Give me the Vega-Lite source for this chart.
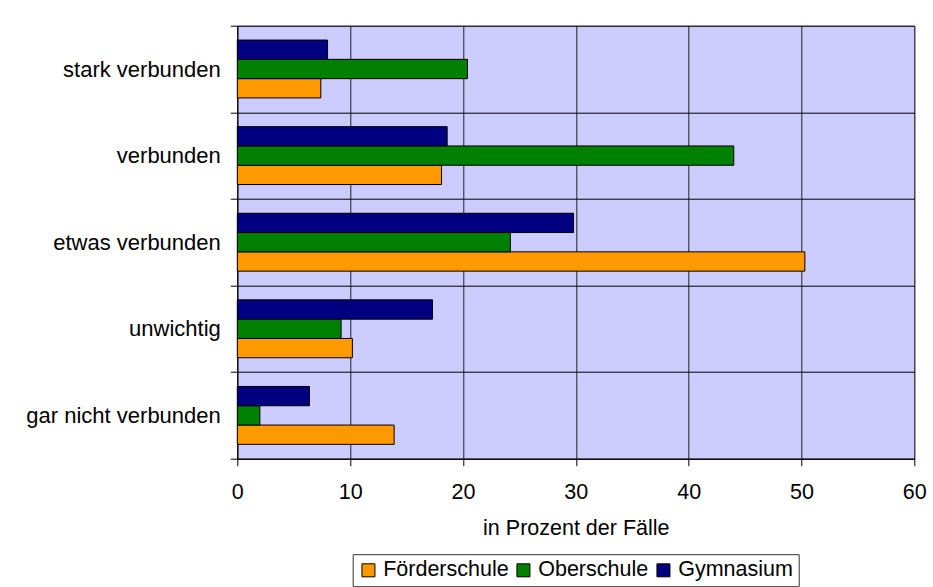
{
  "$schema": "https://vega.github.io/schema/vega-lite/v6.json",
  "autosize": {"type": "none"},
  "width": 677,
  "height": 433,
  "padding": {"left": 237.3, "top": 25.7, "right": 18.7, "bottom": 128.3},
  "background": "white",
  "data": {
    "values": [
      {"kat": "stark verbunden", "schule": "Förderschule", "wert": 7.4},
      {"kat": "stark verbunden", "schule": "Oberschule", "wert": 20.4},
      {"kat": "stark verbunden", "schule": "Gymnasium", "wert": 8.0},
      {"kat": "verbunden", "schule": "Förderschule", "wert": 18.1},
      {"kat": "verbunden", "schule": "Oberschule", "wert": 44.0},
      {"kat": "verbunden", "schule": "Gymnasium", "wert": 18.6},
      {"kat": "etwas verbunden", "schule": "Förderschule", "wert": 50.3},
      {"kat": "etwas verbunden", "schule": "Oberschule", "wert": 24.2},
      {"kat": "etwas verbunden", "schule": "Gymnasium", "wert": 29.8},
      {"kat": "unwichtig", "schule": "Förderschule", "wert": 10.2},
      {"kat": "unwichtig", "schule": "Oberschule", "wert": 9.2},
      {"kat": "unwichtig", "schule": "Gymnasium", "wert": 17.3},
      {"kat": "gar nicht verbunden", "schule": "Förderschule", "wert": 13.9},
      {"kat": "gar nicht verbunden", "schule": "Oberschule", "wert": 2.0},
      {"kat": "gar nicht verbunden", "schule": "Gymnasium", "wert": 6.4}
    ]
  },
  "mark": {"type": "bar", "stroke": "black", "strokeWidth": 1},
  "encoding": {
    "y": {
      "field": "kat",
      "type": "nominal",
      "sort": ["stark verbunden", "verbunden", "etwas verbunden", "unwichtig", "gar nicht verbunden"],
      "scale": {"paddingInner": 0, "paddingOuter": 0},
      "axis": {
        "title": null,
        "tickBand": "extent",
        "grid": true,
        "gridColor": "black",
        "gridWidth": 1,
        "gridOpacity": 1,
        "tickSize": 7,
        "tickColor": "black",
        "domainColor": "black",
        "labelFont": "Liberation Sans",
        "labelFontSize": 22,
        "labelColor": "black",
        "labelPadding": 10,
        "labelLimit": 400
      }
    },
    "yOffset": {
      "field": "schule",
      "type": "nominal",
      "sort": ["Gymnasium", "Oberschule", "Förderschule"],
      "scale": {"paddingInner": 0, "paddingOuter": 0.744}
    },
    "x": {
      "field": "wert",
      "type": "quantitative",
      "scale": {"domain": [0, 60], "nice": false},
      "axis": {
        "values": [0, 10, 20, 30, 40, 50, 60],
        "title": "in Prozent der Fälle",
        "titleFont": "Liberation Sans",
        "titleFontSize": 21.5,
        "titleFontWeight": "normal",
        "titleColor": "black",
        "titlePadding": 14,
        "grid": true,
        "gridColor": "#222222",
        "gridWidth": 1,
        "gridOpacity": 1,
        "tickSize": 7,
        "tickColor": "black",
        "domainColor": "black",
        "labelFont": "Liberation Sans",
        "labelFontSize": 21.5,
        "labelColor": "black",
        "labelPadding": 16,
        "labelFlush": false,
        "labelOverlap": false
      }
    },
    "color": {
      "field": "schule",
      "type": "nominal",
      "scale": {
        "domain": ["Förderschule", "Oberschule", "Gymnasium"],
        "range": ["#FF9900", "#008000", "#000080"]
      },
      "legend": {
        "title": null,
        "orient": "none",
        "direction": "horizontal",
        "legendX": 115.4,
        "legendY": 528.5,
        "strokeColor": "#333333",
        "padding": 5,
        "symbolType": "square",
        "symbolSize": 169,
        "symbolStrokeColor": "black",
        "symbolStrokeWidth": 1,
        "symbolOpacity": 1,
        "labelFont": "Liberation Sans",
        "labelFontSize": 21.5,
        "labelColor": "black",
        "labelOffset": 4,
        "columnPadding": 4,
        "labelLimit": 300
      }
    }
  },
  "config": {
    "view": {"fill": "#CCCCFF", "stroke": "#808080", "strokeWidth": 1}
  }
}
